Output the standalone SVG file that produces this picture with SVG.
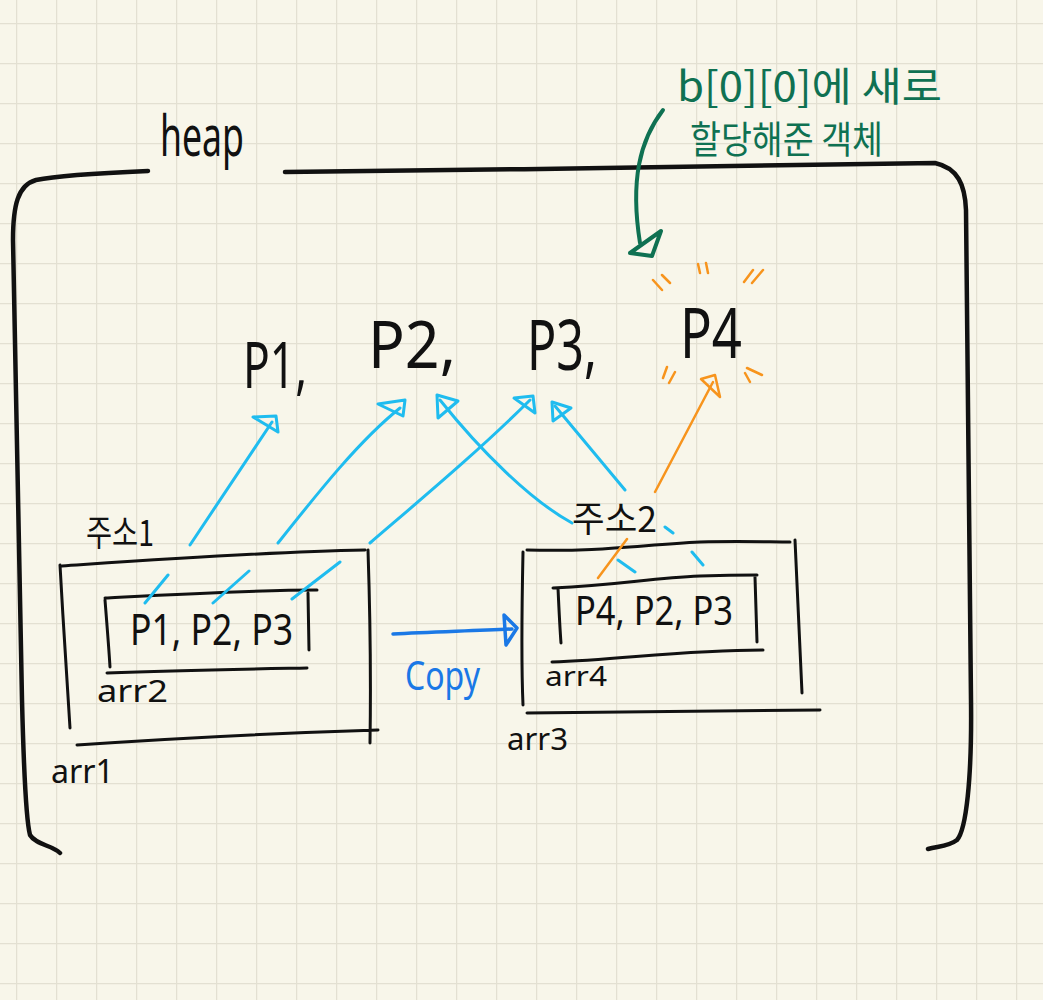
<svg xmlns="http://www.w3.org/2000/svg" width="1043" height="1000" viewBox="0 0 1043 1000">
<defs>
  <pattern id="grid" x="16" y="23" width="40" height="40" patternUnits="userSpaceOnUse">
    <path d="M0,0 V40 M0,0 H40" stroke="#e3e0d2" stroke-width="2.5" fill="none"/>
  </pattern>
</defs>
<style>
  .ink { fill: none; stroke: #111; stroke-linecap: round; stroke-linejoin: round; }
  .heap { stroke-width: 4.5; }
  .box { stroke-width: 3; }
  .cyan { fill: none; stroke: #1fbcef; stroke-width: 3; stroke-linecap: round; stroke-linejoin: round; }
  .orange { fill: none; stroke: #f7941d; stroke-width: 2.5; stroke-linecap: round; stroke-linejoin: round; }
  .green { fill: none; stroke: #0f7152; stroke-width: 4; stroke-linecap: round; stroke-linejoin: round; }
  .blue { fill: none; stroke: #1a78e6; stroke-width: 3.5; stroke-linecap: round; stroke-linejoin: round; }
  text { font-family: "Noto Sans", "Liberation Sans", "Noto Sans CJK KR", sans-serif; fill: #111; }
  .kr { font-family: "Noto Sans CJK KR", "Noto Sans", sans-serif; }
  .gtxt { fill: #0f7152; }
  .btxt { fill: #1a78e6; }
</style>
<rect width="1043" height="1000" fill="#f8f6ea"/>
<rect width="1043" height="1000" fill="url(#grid)"/>

<g id="heap">
  <path class="ink heap" d="M148,171 C100,173 60,175 36,180 C18,185 13,205 13,240 L22,700 C24,780 26,820 30,835 C36,845 52,845 60,853"/>
  <path class="ink heap" d="M285,172 C500,170 800,165 935,163 C958,168 965,185 966,210 L971,700 C972,780 966,830 957,840 C949,846 940,846 928,849"/>
  <text x="160" y="156" font-size="56" textLength="84" lengthAdjust="spacingAndGlyphs">heap</text>
</g>

<g id="note">
  <text class="kr gtxt" x="677" y="101" font-size="40" textLength="265" lengthAdjust="spacingAndGlyphs">b[0][0]에 새로</text>
  <text class="kr gtxt" x="690" y="153" font-size="38" textLength="193" lengthAdjust="spacingAndGlyphs">할당해준 객체</text>
</g>

<g id="P1">
  <text x="243" y="388" font-size="64" textLength="64" lengthAdjust="spacingAndGlyphs">P1,</text>
</g>
<g id="P2">
  <text x="368" y="368" font-size="66" textLength="88" lengthAdjust="spacingAndGlyphs">P2,</text>
</g>
<g id="P3">
  <text x="527" y="370" font-size="70" textLength="70" lengthAdjust="spacingAndGlyphs">P3,</text>
</g>
<g id="P4">
  <text x="680" y="358" font-size="70" textLength="62" lengthAdjust="spacingAndGlyphs">P4</text>
  <path class="orange" d="M653,280 L662,290 M662,275 L670,283 M698,264 L700,273 M706,263 L708,273 M744,282 L753,270 M752,283 L763,270 M663,378 L667,367 M669,383 L675,372 M747,368 L762,375 M745,373 L750,382"/>
</g>

<g id="arr1">
  <path class="ink box" d="M62,566 C150,560 260,552 365,550 M368,550 C370,610 371,680 370,743 M77,745 C180,738 280,733 378,730 M60,565 C63,620 67,680 70,728"/>
  <text x="86" y="546" font-size="36" class="kr" textLength="68" lengthAdjust="spacingAndGlyphs">주소1</text>
  <text x="51" y="783" font-size="32" textLength="63" lengthAdjust="spacingAndGlyphs">arr1</text>
</g>
<g id="arr2">
  <path class="ink box" d="M105,598 C180,594 250,590 317,590 M105,600 C107,625 109,650 110,667 M308,593 L309,650 M107,673 C180,670 250,669 307,668"/>
  <text x="130" y="645" font-size="44" textLength="163" lengthAdjust="spacingAndGlyphs">P1, P2, P3</text>
  <text x="97" y="702" font-size="30" textLength="71" lengthAdjust="spacingAndGlyphs">arr2</text>
</g>

<g id="arr3">
  <path class="ink box" d="M527,550 C600,552 640,545 700,542 C740,541 770,542 790,542 M795,540 C798,600 800,650 802,693 M523,552 C522,600 521,660 523,705 M527,713 C640,712 740,711 820,710"/>
  <text x="572" y="532" font-size="36" class="kr" textLength="85" lengthAdjust="spacingAndGlyphs">주소2</text>
  <text x="507" y="750" font-size="30" textLength="61" lengthAdjust="spacingAndGlyphs">arr3</text>
</g>
<g id="arr4">
  <path class="ink box" d="M553,588 C620,585 650,578 700,576 C730,575 745,575 757,575 M558,588 C559,610 560,630 561,643 M755,577 L757,642 M552,662 C620,660 680,650 763,650"/>
  <text x="575" y="625" font-size="40" textLength="158" lengthAdjust="spacingAndGlyphs">P4, P2, P3</text>
  <text x="545" y="686" font-size="28" textLength="62" lengthAdjust="spacingAndGlyphs">arr4</text>
</g>

<g id="connectors">
  <!-- green note arrow -->
  <path class="green" d="M663,110 C640,140 630,180 640,243"/>
  <path class="green" d="M630,253 L661,231 L652,256 Z" stroke-width="3.5"/>
  <!-- cyan arrows from arr2 / arr1 -->
  <path class="cyan" d="M145,603 L168,575 M190,545 L272,422"/>
  <path class="cyan" d="M253,417 L276,416 L278,432 Z"/>
  <path class="cyan" d="M213,603 L249,571 M278,543 C320,490 360,440 400,408"/>
  <path class="cyan" d="M378,404 L405,400 L403,416 Z"/>
  <path class="cyan" d="M292,599 L340,562 M370,543 C420,500 480,450 530,400"/>
  <path class="cyan" d="M514,398 L533,396 L535,413 Z"/>
  <!-- cyan arrows from arr4 / arr3 -->
  <path class="cyan" d="M618,560 L635,572 M572,523 C530,500 480,450 440,400"/>
  <path class="cyan" d="M437,395 L438,418 L458,401 Z"/>
  <path class="cyan" d="M665,527 L673,533 M692,552 L703,565 M625,490 L555,406"/>
  <path class="cyan" d="M552,402 L553,421 L571,408 Z"/>
  <!-- orange arrow to P4 -->
  <path class="orange" d="M598,578 L627,539 M655,492 L713,382"/>
  <path class="orange" d="M701,379 L715,375 L720,397 Z" stroke-width="3"/>
  <!-- copy arrow -->
  <path class="blue" d="M393,634 C430,632 470,631 512,629"/>
  <path class="blue" d="M504,615 L517,628 L506,645 Z"/>
  <text class="btxt" x="405" y="690" font-size="40" textLength="75" lengthAdjust="spacingAndGlyphs">Copy</text>
</g>
</svg>
